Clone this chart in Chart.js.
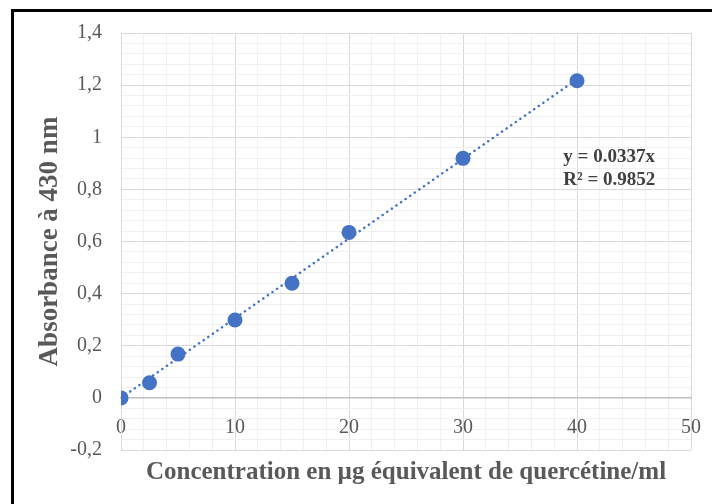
<!DOCTYPE html>
<html>
<head>
<meta charset="utf-8">
<script src="https://cdn.jsdelivr.net/npm/chart.js@4"></script>
<style>
  body { margin: 0; background: #fff; }
  #wrap { width: 712px; height: 504px; position: relative; }
</style>
</head>
<body>
<div id="wrap"><canvas id="courbe"></canvas></div>
<script>
// Gamme étalon de quercétine
const concentrations = [0, 2.5, 5, 10, 15, 20, 30, 40];
const absorbances = [0, 0.058, 0.168, 0.299, 0.44, 0.635, 0.919, 1.217];
const equationLines = ['y = 0.0337x', 'R² = 0.9852'];
const xTitle = 'Concentration en µg équivalent de quercétine/ml';
const yTitle = 'Absorbance à 430 nm';

const serif = 'Liberation Serif';
const bleu = '#4472C4';
const gris = '#595959';

// droite de tendance passant par l'origine (moindres carrés)
let sxy = 0, sxx = 0;
concentrations.forEach((c, i) => { sxy += c * absorbances[i]; sxx += c * c; });
const pente = sxy / sxx;
const xMaxTendance = concentrations[concentrations.length - 1];

const isMajorY = v => Math.round(v * 100) % 20 === 0;

const habillage = {
  id: 'habillage',
  afterDraw(chart) {
    const {ctx, chartArea, scales} = chart;
    ctx.save();
    // cadre noir
    ctx.fillStyle = '#000';
    ctx.fillRect(11, 9, chart.width - 11, 3);
    ctx.fillRect(11, 9, 3, chart.height - 9);

    // titre de l'axe des abscisses
    ctx.fillStyle = gris;
    ctx.font = 'bold 25px "' + serif + '"';
    ctx.textAlign = 'center';
    ctx.textBaseline = 'alphabetic';
    ctx.fillText(xTitle, (chartArea.left + chartArea.right) / 2, 479);

    // équation de la droite
    ctx.fillStyle = '#404040';
    ctx.font = 'bold 19px "' + serif + '"';
    ctx.textAlign = 'left';
    const ex = scales.x.getPixelForValue(38.8);
    const ey = scales.y.getPixelForValue(0.906);
    equationLines.forEach((t, i) => ctx.fillText(t, ex, ey + i * 23.5));
    ctx.restore();
  }
};

new Chart(document.getElementById('courbe'), {
  type: 'scatter',
  data: {
    datasets: [
      {
        data: concentrations.map((c, i) => ({x: c, y: absorbances[i]})),
        backgroundColor: bleu,
        borderColor: bleu,
        borderWidth: 0,
        pointRadius: 7.5,
        pointHoverRadius: 7.5,
        order: 1
      },
      {
        data: [{x: 0, y: 0}, {x: xMaxTendance, y: pente * xMaxTendance}],
        showLine: true,
        borderColor: bleu,
        borderWidth: 2.5,
        borderDash: [0.1, 5.5],
        borderCapStyle: 'round',
        pointRadius: 0,
        order: 2
      }
    ]
  },
  options: {
    responsive: true,
    maintainAspectRatio: false,
    animation: false,
    events: [],
    layout: { padding: { left: 20, top: 33, right: 21, bottom: 54 } },
    plugins: { legend: { display: false }, tooltip: { enabled: false } },
    scales: {
      x: {
        type: 'linear',
        position: { y: 0 },
        min: 0,
        max: 50,
        afterFit(scale) { scale.paddingLeft = 0; scale.paddingRight = 0; },
        border: { color: '#bfbfbf', width: 1.5 },
        grid: {
          drawTicks: false,
          color: ctx => ctx.tick.value % 10 === 0 ? '#d9d9d9' : '#f0f0f0'
        },
        ticks: {
          stepSize: 2,
          autoSkip: false,
          maxRotation: 0,
          padding: 18,
          color: gris,
          font: { family: serif, size: 20 },
          callback: v => v % 10 === 0 ? String(v) : ''
        }
      },
      y: {
        min: -0.2,
        max: 1.4,
        afterFit(scale) { scale.width = 101; },
        border: { color: '#d9d9d9' },
        grid: {
          drawTicks: false,
          color: ctx => isMajorY(ctx.tick.value) ? '#d9d9d9' : '#f0f0f0'
        },
        ticks: {
          stepSize: 0.04,
          maxTicksLimit: 100,
          autoSkip: false,
          padding: 19,
          color: gris,
          font: { family: serif, size: 20 },
          callback: v => isMajorY(v) ? String(Math.round(v * 100) / 100).replace('.', ',') : ''
        },
        title: {
          display: true,
          text: yTitle,
          color: gris,
          font: { family: serif, size: 27, weight: 'bold' },
          padding: { top: 14, bottom: 0 }
        }
      }
    }
  },
  plugins: [habillage]
});
</script>
</body>
</html>
